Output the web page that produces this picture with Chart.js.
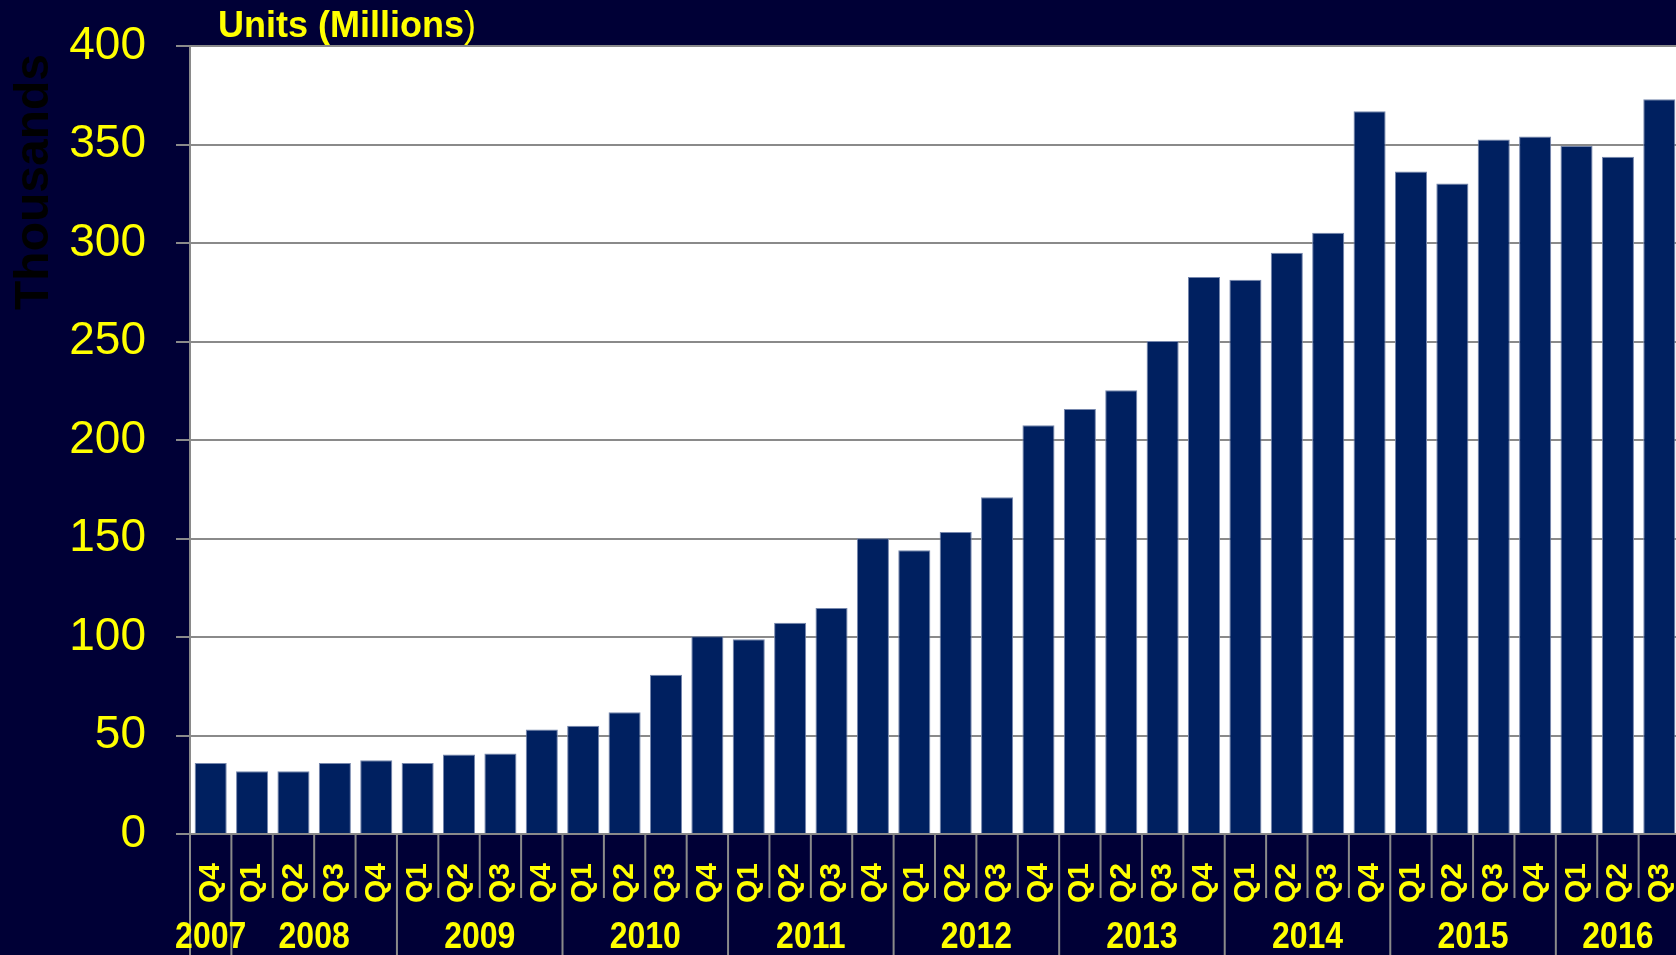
<!DOCTYPE html>
<html>
<head>
<meta charset="utf-8">
<title>Units (Millions)</title>
<script src="https://cdn.jsdelivr.net/npm/chart.js@4.4.1/dist/chart.umd.min.js"></script>
<style>
    html, body { margin: 0; padding: 0; overflow: hidden; background: #000036; }
    #chart { display: block; }
</style>
</head>
<body>
<canvas id="chart" width="1680" height="955"></canvas>
<script>
const quarters = [
    'Q4',
    'Q1', 'Q2', 'Q3', 'Q4',
    'Q1', 'Q2', 'Q3', 'Q4',
    'Q1', 'Q2', 'Q3', 'Q4',
    'Q1', 'Q2', 'Q3', 'Q4',
    'Q1', 'Q2', 'Q3', 'Q4',
    'Q1', 'Q2', 'Q3', 'Q4',
    'Q1', 'Q2', 'Q3', 'Q4',
    'Q1', 'Q2', 'Q3', 'Q4',
    'Q1', 'Q2', 'Q3'
];
const years = [
    '2007',
    '2008', '2008', '2008', '2008',
    '2009', '2009', '2009', '2009',
    '2010', '2010', '2010', '2010',
    '2011', '2011', '2011', '2011',
    '2012', '2012', '2012', '2012',
    '2013', '2013', '2013', '2013',
    '2014', '2014', '2014', '2014',
    '2015', '2015', '2015', '2015',
    '2016', '2016', '2016'
];
// thousands
const units = [
    36.0,
    31.9, 31.9, 36.0, 37.4,
    36.0, 40.3, 40.8, 53.0,
    55.0, 61.8, 80.8, 100.4,
    98.9, 107.2, 114.7, 150.1,
    144.0, 153.3, 170.9, 207.5,
    215.7, 225.2, 250.3, 282.8,
    281.4, 295.0, 305.2, 366.9,
    336.3, 330.2, 352.6, 354.0,
    349.2, 343.8, 373.0
];
const yTicks = [0, 50, 100, 150, 200, 250, 300, 350, 400];

const navy = '#000036';
const yellow = '#FFFF00';
const lineGrey = '#8a8a8a';
const fontFamily = '"Liberation Sans", Arial, Helvetica, sans-serif';

const backgroundPlugin = {
    id: 'background',
    beforeDraw(chart) {
        let ctx = chart.ctx;
        let area = chart.chartArea;
        ctx.save();
        ctx.fillStyle = navy;
        ctx.fillRect(0, 0, chart.width, chart.height);
        ctx.fillStyle = '#ffffff';
        ctx.fillRect(area.left, area.top, area.right - area.left, area.bottom - area.top);
        ctx.restore();
    }
};

// quarter / year separators, year labels and the two titles
const decorationsPlugin = {
    id: 'decorations',
    afterDraw(chart) {
        let ctx = chart.ctx;
        let x = chart.scales.x;
        let area = chart.chartArea;
        let step = x.getPixelForValue(1) - x.getPixelForValue(0);

        ctx.save();
        ctx.strokeStyle = lineGrey;
        ctx.lineWidth = 2;
        for (let i = 0; i < quarters.length; i++) {
            let left = x.getPixelForValue(i) - step / 2;
            let newYear = i === 0 || years[i] !== years[i - 1];
            ctx.beginPath();
            ctx.moveTo(left, area.bottom);
            ctx.lineTo(left, newYear ? chart.height : area.bottom + 64);
            ctx.stroke();
        }

        // year labels centred on their group of quarters
        ctx.fillStyle = yellow;
        ctx.font = 'bold 32px ' + fontFamily;
        ctx.textAlign = 'center';
        ctx.textBaseline = 'middle';
        let start = 0;
        for (let i = 1; i <= years.length; i++) {
            if (i === years.length || years[i] !== years[start]) {
                let cx = (x.getPixelForValue(start) + x.getPixelForValue(i - 1)) / 2;
                ctx.save();
                ctx.translate(cx, 938);
                ctx.scale(1, 1.15);
                ctx.fillText(years[start], 0, 0);
                ctx.restore();
                start = i;
            }
        }

        // chart title
        ctx.textAlign = 'left';
        ctx.textBaseline = 'alphabetic';
        ctx.font = 'bold 36px ' + fontFamily;
        let title = 'Units (Millions';
        ctx.fillText(title, 218, 37);
        let w = ctx.measureText(title).width;
        ctx.font = '36px ' + fontFamily;
        ctx.fillText(')', 218 + w, 37);

        // y axis title, kept near the top like the original
        ctx.save();
        ctx.translate(35, 182);
        ctx.rotate(-Math.PI / 2);
        ctx.fillStyle = '#000000';
        ctx.font = 'bold 48px ' + fontFamily;
        ctx.textAlign = 'center';
        ctx.textBaseline = 'middle';
        ctx.fillText('Thousands', 0, 0);
        ctx.restore();

        ctx.restore();
    }
};

new Chart(document.getElementById('chart'), {
    type: 'bar',
    data: {
        labels: quarters,
        datasets: [{
            label: 'Units',
            data: units,
            backgroundColor: '#002060',
            borderColor: '#7687ad',
            borderWidth: 1,
            barPercentage: 0.775,
            categoryPercentage: 1
        }]
    },
    options: {
        responsive: false,
        animation: false,
        layout: {
            padding: { top: 46, left: 0, right: 0, bottom: 0 }
        },
        plugins: {
            legend: { display: false },
            tooltip: { enabled: false }
        },
        scales: {
            x: {
                afterFit: (scale) => {
                    scale.height = 121;
                    scale.paddingLeft = 0;
                    scale.paddingRight = 0;
                },
                grid: { display: false },
                border: { display: false },
                ticks: {
                    autoSkip: false,
                    minRotation: 90,
                    maxRotation: 90,
                    padding: 21,
                    color: yellow,
                    font: { family: fontFamily, size: 30, weight: 'bold' }
                }
            },
            y: {
                min: 0,
                max: 400,
                afterFit: (scale) => {
                    scale.width = 190;
                    scale.paddingTop = 0;
                    scale.paddingBottom = 0;
                },
                afterBuildTicks: (scale) => {
                    scale.ticks = yTicks.map(v => ({ value: v }));
                },
                grid: {
                    color: lineGrey,
                    lineWidth: 2,
                    tickLength: 14,
                    drawTicks: true
                },
                border: { color: lineGrey, width: 2 },
                ticks: {
                    padding: 30,
                    color: yellow,
                    font: { family: fontFamily, size: 46 }
                }
            }
        }
    },
    plugins: [backgroundPlugin, decorationsPlugin]
});
</script>
</body>
</html>
